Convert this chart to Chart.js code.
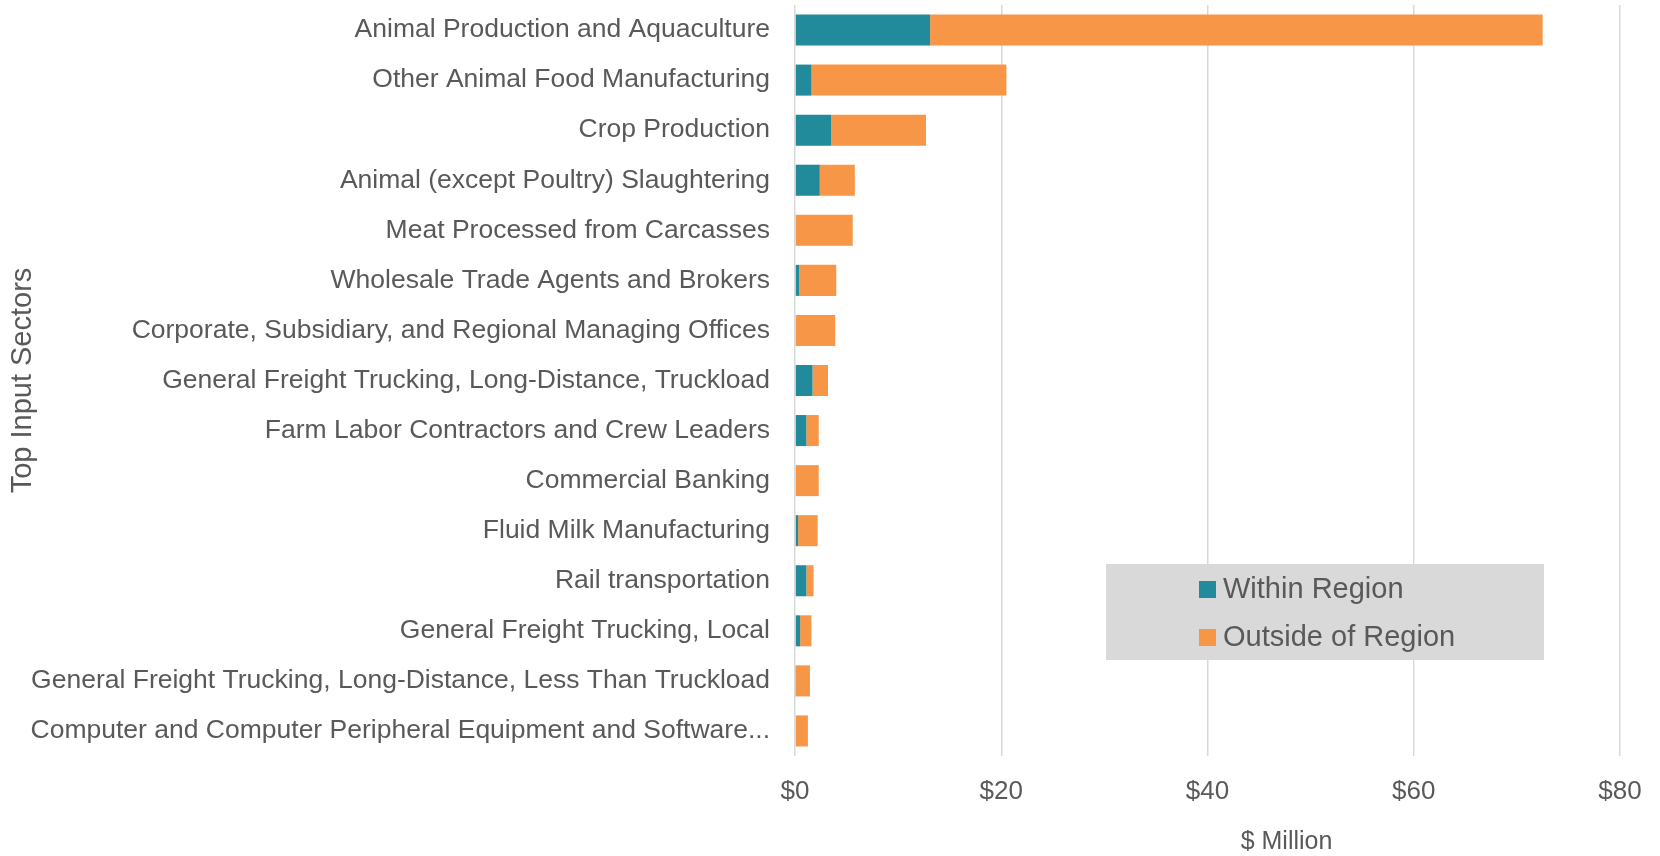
<!DOCTYPE html>
<html>
<head>
<meta charset="utf-8">
<script src="https://cdn.jsdelivr.net/npm/chart.js@4"></script>
<style>
  html, body { margin: 0; padding: 0; background: #fff; }
  #wrap { width: 1660px; height: 856px; }
</style>
</head>
<body>
<div id="wrap"><canvas id="sectorChart"></canvas></div>
<script>
// Top input sectors, $ million
const sectors = [
  "Animal Production and Aquaculture",
  "Other Animal Food Manufacturing",
  "Crop Production",
  "Animal (except Poultry) Slaughtering",
  "Meat Processed from Carcasses",
  "Wholesale Trade Agents and Brokers",
  "Corporate, Subsidiary, and Regional Managing Offices",
  "General Freight Trucking, Long-Distance, Truckload",
  "Farm Labor Contractors and Crew Leaders",
  "Commercial Banking",
  "Fluid Milk Manufacturing",
  "Rail transportation",
  "General Freight Trucking, Local",
  "General Freight Trucking, Long-Distance, Less Than Truckload",
  "Computer and Computer Peripheral Equipment and Software..."
];
const withinRegion  = [13.1, 1.6, 3.5, 2.4, 0, 0.4, 0, 1.7, 1.1, 0, 0.3, 1.1, 0.5, 0.1, 0];
const outsideRegion = [59.4, 18.9, 9.2, 3.4, 5.6, 3.6, 3.9, 1.5, 1.2, 2.3, 1.9, 0.7, 1.1, 1.35, 1.25];
const xTicks = [0, 20, 40, 60, 80];

const textColor = '#595959';
const gridColor = '#d9d9d9';
const font = '"Liberation Sans", Arial, sans-serif';

// legend box drawn inside the plot, like the original
const legendBox = {
  id: 'legendBox',
  afterDraw(chart) {
    const { ctx, chartArea } = chart;
    const x = chartArea.right - 514, y = chartArea.bottom - 192;
    ctx.save();
    ctx.fillStyle = '#d9d9d9';
    ctx.fillRect(x, y, 438, 96);
    ctx.font = '29px ' + font;
    ctx.textBaseline = 'middle';
    chart.data.datasets.forEach((ds, i) => {
      const cy = y + 25 + i * 48;
      ctx.fillStyle = ds.backgroundColor;
      ctx.fillRect(x + 93, cy - 8, 17, 17);
      ctx.fillStyle = textColor;
      ctx.fillText(ds.label, x + 117, cy + 1);
    });
    ctx.restore();
  }
};

// x axis title sits right of centre in the original
const axisTitle = {
  id: 'axisTitle',
  afterDraw(chart) {
    const { ctx, chartArea } = chart;
    ctx.save();
    ctx.font = '25px ' + font;
    ctx.fillStyle = textColor;
    ctx.textAlign = 'center';
    ctx.textBaseline = 'middle';
    ctx.fillText('$ Million', (chartArea.left + chartArea.right) / 2 + 79, 842);
    ctx.restore();
  }
};

const chart = new Chart(document.getElementById('sectorChart'), {
  type: 'bar',
  data: {
    labels: sectors,
    datasets: [
      { label: 'Within Region', data: withinRegion, backgroundColor: '#218a9b' },
      { label: 'Outside of Region', data: outsideRegion, backgroundColor: '#f79646' }
    ]
  },
  options: {
    indexAxis: 'y',
    responsive: true,
    maintainAspectRatio: false,
    animation: false,
    layout: { padding: { top: 5, right: 40, left: 0, bottom: 0 } },
    datasets: { bar: { categoryPercentage: 1, barPercentage: 0.62 } },
    plugins: {
      legend: { display: false },
      tooltip: { enabled: false }
    },
    scales: {
      x: {
        stacked: true,
        min: 0,
        max: 80,
        afterBuildTicks: (s) => { s.ticks = xTicks.map(v => ({ value: v })); },
        afterFit: (s) => { s.height = 100; s.paddingLeft = 0; s.paddingRight = 0; },
        grid: { color: gridColor, lineWidth: 1.5, drawTicks: false },
        border: { display: false },
        ticks: {
          color: textColor,
          padding: 20,
          font: { family: font, size: 26 },
          callback: (v) => '$' + v
        }
      },
      y: {
        stacked: true,
        afterFit: (s) => { s.width = 795; s.paddingTop = 0; s.paddingBottom = 0; },
        grid: { display: false, drawTicks: false },
        border: { display: false },
        ticks: {
          color: textColor,
          padding: 25,
          autoSkip: false,
          font: { family: font, size: 26.5 }
        },
        title: {
          display: true,
          text: 'Top Input Sectors',
          color: textColor,
          padding: { top: 6, bottom: 0 },
          font: { family: font, size: 29 }
        }
      }
    }
  },
  plugins: [legendBox, axisTitle]
});
</script>
</body>
</html>
